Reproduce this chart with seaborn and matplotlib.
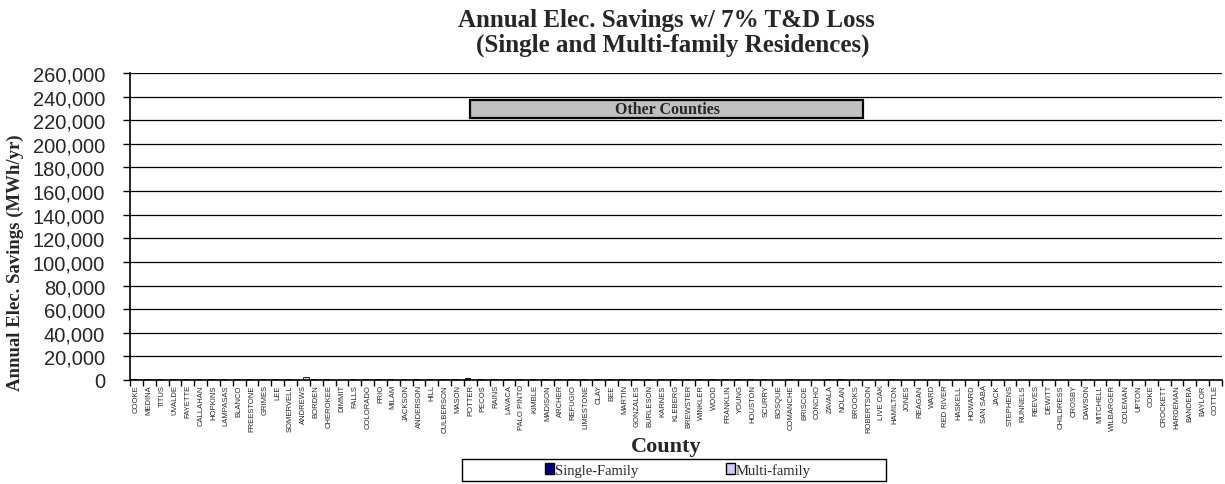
import matplotlib
matplotlib.use("Agg")
import matplotlib.pyplot as plt
import seaborn as sns
import pandas as pd
import numpy as np
from matplotlib.patches import Rectangle
from matplotlib.ticker import FuncFormatter, MultipleLocator, FixedLocator

counties = ["COOKE", "MEDINA", "TITUS", "UVALDE", "FAYETTE", "CALLAHAN", "HOPKINS", "LAMPASAS",
            "BLANCO", "FREESTONE", "GRIMES", "LEE", "SOMERVELL", "ANDREWS", "BORDEN", "CHEROKEE",
            "DIMMIT", "FALLS", "COLORADO", "FRIO", "MILAM", "JACKSON", "ANDERSON", "HILL",
            "CULBERSON", "MASON", "POTTER", "PECOS", "RAINS", "LAVACA", "PALO PINTO", "KIMBLE",
            "MADISON", "ARCHER", "REFUGIO", "LIMESTONE", "CLAY", "BEE", "MARTIN", "GONZALES",
            "BURLESON", "KARNES", "KLEBERG", "BREWSTER", "WINKLER", "WOOD", "FRANKLIN", "YOUNG",
            "HOUSTON", "SCURRY", "BOSQUE", "COMANCHE", "BRISCOE", "CONCHO", "ZAVALA", "NOLAN",
            "BROOKS", "ROBERTSON", "LIVE OAK", "HAMILTON", "JONES", "REAGAN", "WARD", "RED RIVER",
            "HASKELL", "HOWARD", "SAN SABA", "JACK", "STEPHENS", "RUNNELS", "REEVES", "DEWITT",
            "CHILDRESS", "CROSBY", "DAWSON", "MITCHELL", "WILBARGER", "COLEMAN", "UPTON", "COKE",
            "CROCKETT", "HARDEMAN", "BANDERA", "BAYLOR", "COTTLE"]

single_family = [820, 760, 790, 700, 740, 650, 780, 690, 610, 720, 680, 560, 590, 350, 640, 700,
                 0, 660, 720, 610, 690, 740, 650, 600, 580, 520, 1500, 630, 590, 610, 560, 530,
                 600, 540, 570, 620, 480, 510, 450, 560, 530, 490, 520, 470, 440, 560, 500, 470,
                 520, 460, 0, 430, 380, 410, 450, 480, 390, 420, 400, 440, 370, 350, 390, 380,
                 360, 420, 330, 350, 380, 340, 310, 360, 290, 300, 320, 330, 280, 300, 260, 250,
                 270, 240, 260, 230, 210]

multi_family = [260, 230, 210, 240, 190, 170, 220, 200, 150, 180, 160, 140, 120, 2300, 110, 190,
                0, 150, 170, 130, 160, 200, 180, 170, 120, 110, 400, 150, 120, 140, 160, 100,
                130, 110, 120, 150, 100, 140, 90, 120, 110, 100, 150, 90, 100, 130, 110, 100,
                120, 90, 0, 100, 60, 80, 110, 100, 90, 80, 90, 100, 80, 70, 90, 80,
                70, 110, 60, 70, 90, 80, 70, 90, 60, 70, 80, 70, 60, 70, 60, 50,
                60, 50, 60, 50, 40]

series_names = ["Single-Family", "Multi-family"]
series_colors = ["#000080", "#CCCCFF"]

df = pd.DataFrame({
    "County": counties * 2,
    "Series": [series_names[0]] * len(counties) + [series_names[1]] * len(counties),
    "Value": single_family + multi_family,
})

sns.set_theme(style="white")
plt.rcParams["font.family"] = ["Liberation Sans", "DejaVu Sans"]

fig = plt.figure(figsize=(12.25, 4.85), dpi=100)
ax = fig.add_axes([130 / 1225, 1 - 381 / 485, (1222 - 130) / 1225, (381 - 74) / 485])

sns.barplot(data=df, x="County", y="Value", hue="Series", order=counties,
            hue_order=series_names, palette=series_colors, ax=ax,
            edgecolor="black", linewidth=0.6, width=0.8, legend=False)

ax.set_ylim(0, 260000)
ax.set_xlim(-0.5, len(counties) - 0.5)
ax.yaxis.set_major_locator(MultipleLocator(20000))
ax.yaxis.set_major_formatter(FuncFormatter(lambda v, p: f"{int(v):,}"))
ax.grid(axis="y", color="black", linewidth=0.9)
ax.set_axisbelow(True)
for s in ["top", "right"]:
    ax.spines[s].set_visible(False)
for s in ["left", "bottom"]:
    ax.spines[s].set_color("black")
    ax.spines[s].set_linewidth(1.2)

ax.tick_params(axis="y", which="major", left=True, length=5, width=1, color="black",
               labelsize=14.5, pad=13)
ax.set_xticks(range(len(counties)))
ax.set_xticklabels(counties, rotation=90, fontsize=5.5)
ax.tick_params(axis="x", which="major", bottom=False, length=0, pad=3)
ax.xaxis.set_minor_locator(FixedLocator(np.arange(-0.5, len(counties), 1.0)))
ax.tick_params(axis="x", which="minor", bottom=True, length=4, width=1, color="black")

serif = ["Liberation Serif", "DejaVu Serif"]
ax.set_ylabel("Annual Elec. Savings (MWh/yr)", fontsize=13.5, fontweight="bold",
              family=serif)
ax.yaxis.set_label_coords(-106 / 1092, (381 - 263) / 307)
ax.set_xlabel("")
fig.text(666 / 1225, 1 - 447 / 485, "County", ha="center", va="center",
         fontsize=16, fontweight="bold", family=serif)

fig.text(666 / 1225, 1 - 20 / 485, "Annual Elec. Savings w/ 7% T&D Loss", ha="center",
         va="center", fontsize=18, fontweight="bold", family=serif)
fig.text(673 / 1225, 1 - 45 / 485, "(Single and Multi-family Residences)", ha="center",
         va="center", fontsize=18, fontweight="bold", family=serif)

# "Other Counties" label box
ax.text(41.3, 229500, "Other Counties", ha="center", va="center",
        fontsize=11.5, fontweight="bold", family=serif, zorder=6)
ax.add_patch(Rectangle((25.96, 222000), 56.54 - 25.96, 15000, facecolor="#C0C0C0",
                       edgecolor="black", linewidth=1.6, zorder=5))

# Legend
fig.patches.append(Rectangle((462 / 1225, 1 - 482 / 485), (886 - 462) / 1225, 22 / 485,
                             transform=fig.transFigure, facecolor="white",
                             edgecolor="black", linewidth=1.0, zorder=1))
handles = [Rectangle((0, 0), 1, 1, facecolor=c, edgecolor="black", linewidth=1.0)
           for c in series_colors]
fig.legend(handles, series_names, loc="center", bbox_to_anchor=(678 / 1225, 1 - 471 / 485),
           ncol=2, frameon=False, handlelength=0.6, handleheight=0.8, handletextpad=0.1,
           columnspacing=6.0, prop={"family": serif, "size": 10.5})

fig.savefig("out.png", dpi=100)
